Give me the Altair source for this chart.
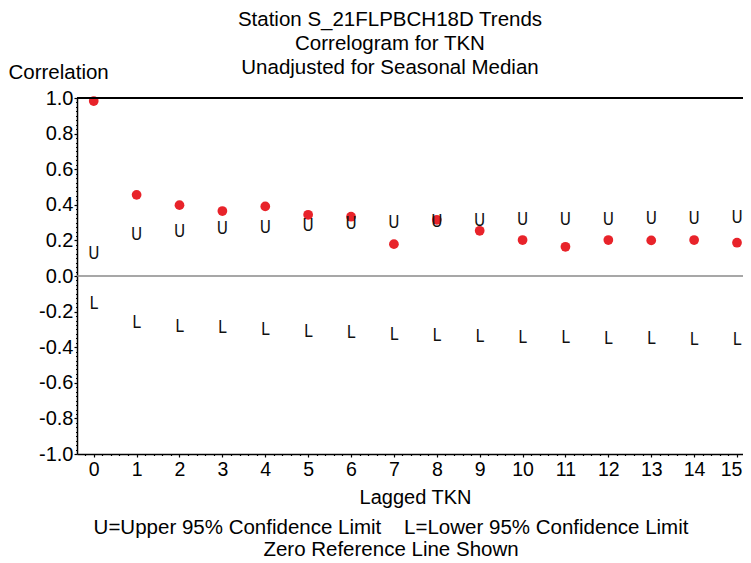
import altair as alt
import pandas as pd
import numpy as np

# ---- data ----
lags = list(range(16))
correlation = [0.983, 0.456, 0.398, 0.365, 0.391, 0.344, 0.333, 0.179,
               0.316, 0.254, 0.202, 0.164, 0.202, 0.200, 0.202, 0.187]
upper_limit = [0.123, 0.230, 0.249, 0.262, 0.271, 0.282, 0.292, 0.297,
               0.301, 0.308, 0.312, 0.314, 0.316, 0.320, 0.321, 0.325]
lower_limit = [-0.159, -0.262, -0.284, -0.294, -0.303, -0.312, -0.322, -0.331,
               -0.337, -0.340, -0.346, -0.350, -0.353, -0.355, -0.357, -0.361]

title_lines = ["Station S_21FLPBCH18D Trends", "Correlogram for TKN",
               "Unadjusted for Seasonal Median"]
NB = "\u00a0"
foot_lines = ["U=Upper 95% Confidence Limit" + NB * 4 + "L=Lower 95% Confidence Limit",
              "Zero Reference Line Shown"]
y_ticks = [-1.0, -0.8, -0.6, -0.4, -0.2, 0.0, 0.2, 0.4, 0.6, 0.8, 1.0]
x_ticks = lags
reference = [0.0]

# minor tick positions
x_minor = [round(v, 2) for v in np.arange(-0.2, 15.15, 0.2) if abs(v - round(v)) > 1e-6]
y_minor = [round(v, 3) for v in np.arange(-1.0, 1.001, 0.025) if abs(v * 5 - round(v * 5)) > 1e-6]

W, H = 666, 356
FONT = "Liberation Sans"
MARKFONT = "Liberation Sans Narrow, DejaVu Sans Condensed, Liberation Sans"
RED = "#e8232a"

df = pd.DataFrame({"lag": lags, "corr": correlation,
                   "upper": upper_limit, "lower": lower_limit})

xscale = alt.Scale(domain=[-0.39, 15.14], nice=False, zero=False)
yscale = alt.Scale(domain=[-1.0, 1.0], nice=False, zero=False)

base = alt.Chart(df)

label_expr = "replace(format(datum.value, '.1f'), '\u2212', '-')"

points = base.mark_circle(size=95, color=RED, opacity=1).encode(
    x=alt.X("lag:Q", scale=xscale,
            axis=alt.Axis(values=x_ticks, orient="bottom", format="d",
                          title="Lagged TKN", titleFontSize=20, titleFont=FONT,
                          titleFontWeight="normal", titleColor="black",
                          titleBaseline="alphabetic", titleY=49, titleX=338,
                          labelFontSize=19.5, labelFont=FONT, labelColor="black",
                          labelBaseline="alphabetic", labelPadding=18,
                          labelOffset={"expr": "datum.value == 15 ? -6 : 0"},
                          tickSize=3, tickColor="black", tickWidth=1.2,
                          domainColor="black", domainWidth=1.5, grid=False,
                          labelFlush=False, labelOverlap=False)),
    y=alt.Y("corr:Q", scale=yscale,
            axis=alt.Axis(values=y_ticks, orient="left", labelExpr=label_expr,
                          title="Correlation", titleAngle=0, titleAlign="left",
                          titleBaseline="alphabetic", titleX=-69, titleY=-20,
                          titleFontSize=20.5, titleFont=FONT, titleFontWeight="normal",
                          titleColor="black",
                          labelFontSize=20, labelFont=FONT, labelColor="black",
                          labelPadding=1, tickSize=3, tickColor="black",
                          tickWidth=1.2, domainColor="black", domainWidth=1.5,
                          grid=False, labelFlush=False, labelOverlap=False)),
)

zero_line = alt.Chart(pd.DataFrame({"ref": reference})).mark_rule(
    color="#8a8a8a", strokeWidth=1.5).encode(
    y=alt.Y("ref:Q", scale=yscale, axis=None))

u_text = base.mark_text(text="U", font=MARKFONT, fontSize=17,
                        color="#111111", baseline="middle").encode(
    x=alt.X("lag:Q", scale=xscale, axis=None),
    y=alt.Y("upper:Q", scale=yscale, axis=None))

l_text = base.mark_text(text="L", font=MARKFONT, fontSize=17,
                        color="#111111", baseline="middle").encode(
    x=alt.X("lag:Q", scale=xscale, axis=None),
    y=alt.Y("lower:Q", scale=yscale, axis=None))

# minor-tick axes (invisible layer)
minor = base.mark_point(opacity=0).encode(
    x=alt.X("lag:Q", scale=xscale,
            axis=alt.Axis(values=x_minor, orient="bottom", labels=False, domain=False,
                          tickSize=1.5, tickColor="black", tickWidth=1.2,
                          grid=False, title=None)),
    y=alt.Y("corr:Q", scale=yscale,
            axis=alt.Axis(values=y_minor, orient="left", labels=False, domain=False,
                          tickSize=1.5, tickColor="black", tickWidth=1.0,
                          grid=False, title=None)),
)

top_border = alt.Chart(df).mark_rule(color="black", strokeWidth=1.5).encode(
    x=alt.value(0), x2=alt.value(W), y=alt.value(0))

def text_line(txt, xpix, ypix, size):
    return alt.Chart(pd.DataFrame({"t": [txt]})).mark_text(
        font=FONT, fontSize=size, color="black", align="center",
        baseline="alphabetic").encode(
        text="t:N", x=alt.value(xpix), y=alt.value(ypix))

title_layers = [text_line(t, 313, -72 + 24 * i, 20.5) for i, t in enumerate(title_lines)]
foot_ys = [H + 79.5, H + 102]
foot_layers = [text_line(t, 314, foot_ys[i], 20.5) for i, t in enumerate(foot_lines)]

chart = alt.layer(zero_line, minor, points, u_text, l_text, top_border,
                  *title_layers, *foot_layers).resolve_axis(
    x="independent", y="independent").properties(
    width=W, height=H,
    autosize=alt.AutoSizeParams(type="none"),
    padding={"left": 69, "top": 90, "right": 0, "bottom": 105},
).configure_view(stroke=None).configure(background="white")

chart.save("out.html", embed_options={"renderer": "svg", "actions": False})
